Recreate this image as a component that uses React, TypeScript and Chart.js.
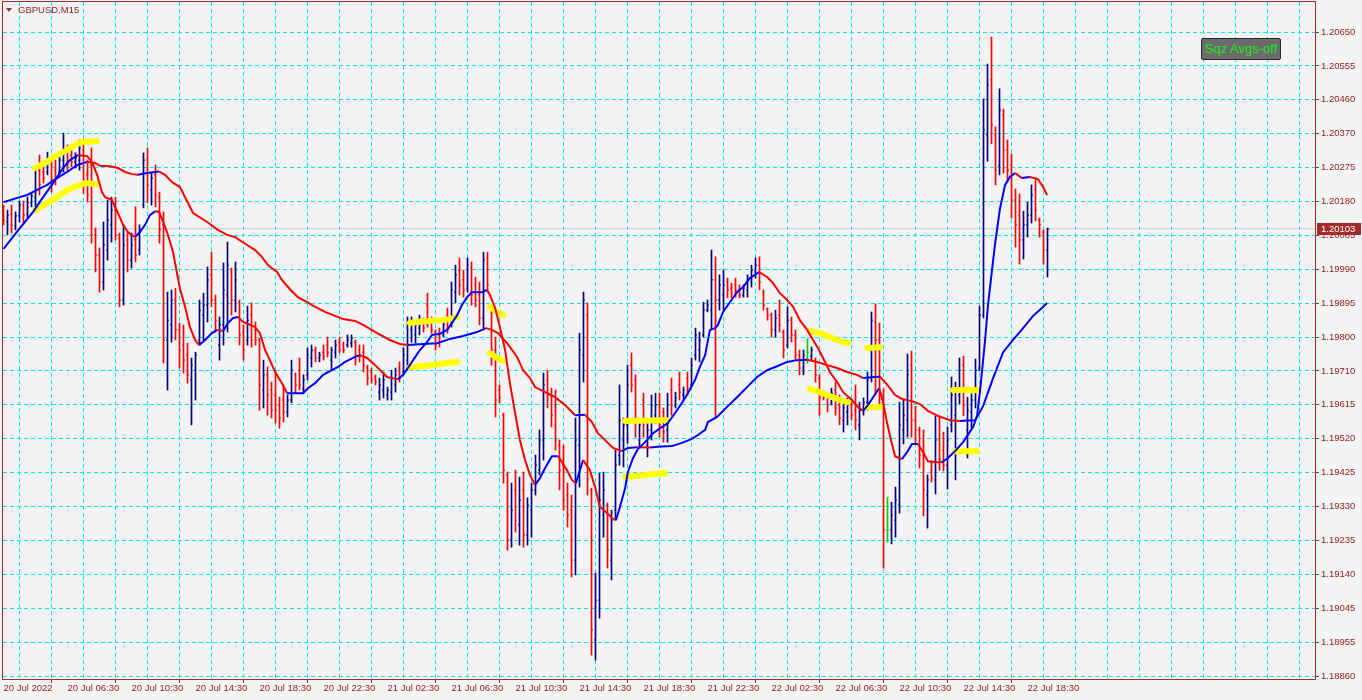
import React, { useEffect, useRef } from 'react';
import { Chart, registerables } from 'chart.js';

Chart.register(...registerables);

// ---------- axis labels ----------
const timeLabels = [
  '20 Jul 2022', '20 Jul 06:30', '20 Jul 10:30', '20 Jul 14:30', '20 Jul 18:30', '20 Jul 22:30',
  '21 Jul 02:30', '21 Jul 06:30', '21 Jul 10:30', '21 Jul 14:30', '21 Jul 18:30', '21 Jul 22:30',
  '22 Jul 02:30', '22 Jul 06:30', '22 Jul 10:30', '22 Jul 14:30', '22 Jul 18:30',
];
const priceLabels = [
  '1.18860', '1.18955', '1.19045', '1.19140', '1.19235', '1.19330', '1.19425', '1.19520', '1.19615', '1.19710',
  '1.19800', '1.19895', '1.19990', '1.20085', '1.20180', '1.20275', '1.20370', '1.20460', '1.20555', '1.20650',
];

// ---------- GBPUSD M15 OHLC ----------
const open = [
  1.20161,1.20122,1.20144,1.20111,1.20139,1.20169,1.20144,1.20175,1.20189,1.20266,
  1.20261,1.20261,1.20294,1.20266,1.20261,1.20294,1.20328,1.20308,1.20289,1.20294,
  1.20322,1.20253,1.20280,1.20086,1.20030,1.19955,1.20044,1.20114,1.20155,1.20077,
  1.19905,1.20072,1.20016,1.20072,1.20044,1.20169,1.20294,1.20211,1.20253,1.20191,
  1.20114,1.19794,1.19836,1.19905,1.19822,1.19780,1.19752,1.19683,1.19710,1.19794,
  1.19863,1.19891,1.19975,1.19905,1.19780,1.19836,1.19919,1.19983,1.19905,1.19899,
  1.19816,1.19794,1.19863,1.19822,1.19794,1.19655,1.19697,1.19655,1.19641,1.19613,
  1.19627,1.19594,1.19627,1.19697,1.19710,1.19660,1.19697,1.19744,1.19766,1.19744,
  1.19760,1.19780,1.19738,1.19760,1.19788,1.19780,1.19780,1.19785,1.19788,1.19766,
  1.19760,1.19716,1.19705,1.19691,1.19649,1.19655,1.19641,1.19649,1.19669,1.19716,
  1.19705,1.19738,1.19822,1.19808,1.19827,1.19849,1.19891,1.19849,1.19816,1.19808,
  1.19808,1.19863,1.19849,1.19927,1.19988,1.19961,1.19938,1.19994,1.19947,1.19919,
  1.19855,1.20022,1.19877,1.19766,1.19655,1.19585,1.19419,1.19238,1.19377,1.19280,
  1.19377,1.19252,1.19321,1.19377,1.19432,1.19516,1.19683,1.19641,1.19613,1.19502,
  1.19446,1.19363,1.19321,1.19182,1.19502,1.19752,1.19863,1.19377,1.18960,1.19071,
  1.19307,1.19335,1.19182,1.19321,1.19474,1.19516,1.19558,1.19724,1.19683,1.19516,
  1.19627,1.19502,1.19544,1.19585,1.19613,1.19594,1.19544,1.19655,1.19613,1.19669,
  1.19641,1.19688,1.19669,1.19752,1.19766,1.19808,1.19877,1.19877,1.19961,1.19905,
  1.19919,1.19955,1.19938,1.19947,1.19933,1.19919,1.19933,1.19955,1.19983,1.20002,
  1.19927,1.19880,1.19863,1.19822,1.19863,1.19816,1.19780,1.19849,1.19808,1.19752,
  1.19716,1.19760,1.19749,1.19738,1.19688,1.19644,1.19638,1.19621,1.19655,1.19613,
  1.19571,1.19594,1.19613,1.19599,1.19558,1.19599,1.19621,1.19688,1.19844,1.19794,
  1.19641,1.19266,1.19266,1.19293,1.19335,1.19544,1.19571,1.19724,1.19571,1.19544,
  1.19474,1.19363,1.19432,1.19405,1.19516,1.19488,1.19446,1.19558,1.19585,1.19641,
  1.19724,1.19544,1.19594,1.19627,1.19716,1.19863,1.20364,1.20517,1.20364,1.20280,
  1.20419,1.20322,1.20280,1.20183,1.20141,1.20072,1.20114,1.20141,1.20211,1.20127,
  1.20094,1.20044,
];
const high = [
  1.20169,1.20155,1.20169,1.20150,1.20180,1.20180,1.20191,1.20202,1.20275,1.20308,
  1.20286,1.20316,1.20303,1.20294,1.20314,1.20369,1.20336,1.20322,1.20314,1.20350,
  1.20341,1.20294,1.20328,1.20105,1.20050,1.20122,1.20183,1.20191,1.20191,1.20091,
  1.20114,1.20094,1.20091,1.20164,1.20114,1.20314,1.20328,1.20258,1.20280,1.20205,
  1.20150,1.19927,1.19933,1.19938,1.19841,1.19836,1.19785,1.19744,1.19760,1.19905,
  1.19924,1.19997,1.20038,1.19919,1.19858,1.20008,1.20066,1.19994,1.20011,1.19905,
  1.19836,1.19888,1.19897,1.19844,1.19799,1.19738,1.19719,1.19677,1.19710,1.19635,
  1.19669,1.19641,1.19738,1.19702,1.19744,1.19697,1.19772,1.19780,1.19774,1.19760,
  1.19780,1.19802,1.19774,1.19794,1.19802,1.19788,1.19808,1.19808,1.19794,1.19780,
  1.19780,1.19724,1.19716,1.19697,1.19688,1.19705,1.19663,1.19710,1.19716,1.19733,
  1.19772,1.19858,1.19858,1.19849,1.19863,1.19855,1.19924,1.19858,1.19822,1.19827,
  1.19855,1.19883,1.19955,1.20002,1.20022,1.19988,1.20022,1.20011,1.19969,1.19955,
  1.20038,1.20038,1.19891,1.19802,1.19669,1.19591,1.19427,1.19396,1.19432,1.19413,
  1.19427,1.19355,1.19396,1.19474,1.19544,1.19702,1.19710,1.19660,1.19655,1.19516,
  1.19502,1.19396,1.19363,1.19577,1.19813,1.19927,1.19897,1.19382,1.19146,1.19424,
  1.19427,1.19341,1.19321,1.19488,1.19669,1.19577,1.19724,1.19758,1.19697,1.19571,
  1.19646,1.19563,1.19641,1.19646,1.19646,1.19605,1.19646,1.19688,1.19649,1.19705,
  1.19663,1.19705,1.19744,1.19827,1.19816,1.19899,1.19905,1.20044,1.20025,1.19975,
  1.19988,1.19966,1.19952,1.19966,1.19947,1.19947,1.19975,1.20002,1.20022,1.20025,
  1.19933,1.19883,1.19869,1.19877,1.19905,1.19822,1.19886,1.19858,1.19822,1.19766,
  1.19766,1.19797,1.19774,1.19744,1.19697,1.19649,1.19646,1.19660,1.19677,1.19641,
  1.19627,1.19633,1.19621,1.19669,1.19621,1.19633,1.19705,1.19872,1.19894,1.19841,
  1.19658,1.19357,1.19343,1.19385,1.19621,1.19630,1.19755,1.19763,1.19610,1.19552,
  1.19544,1.19419,1.19457,1.19583,1.19583,1.19538,1.19552,1.19691,1.19677,1.19744,
  1.19749,1.19635,1.19644,1.19741,1.19888,1.20464,1.20561,1.20636,1.20386,1.20492,
  1.20436,1.20350,1.20311,1.20214,1.20200,1.20152,1.20177,1.20225,1.20244,1.20133,
  1.20100,1.20105,
];
const low = [
  1.20114,1.20086,1.20091,1.20100,1.20122,1.20114,1.20133,1.20164,1.20150,1.20197,
  1.20230,1.20253,1.20205,1.20225,1.20253,1.20261,1.20261,1.20275,1.20272,1.20266,
  1.20202,1.20177,1.20063,1.19983,1.19927,1.19933,1.20016,1.20066,1.20072,1.19886,
  1.19891,1.19983,1.19994,1.20011,1.20030,1.20161,1.20175,1.20169,1.20164,1.20063,
  1.19730,1.19655,1.19788,1.19794,1.19716,1.19702,1.19674,1.19558,1.19627,1.19780,
  1.19794,1.19844,1.19886,1.19816,1.19738,1.19780,1.19816,1.19863,1.19872,1.19780,
  1.19738,1.19780,1.19774,1.19780,1.19599,1.19605,1.19585,1.19577,1.19563,1.19549,
  1.19566,1.19580,1.19619,1.19646,1.19655,1.19646,1.19683,1.19719,1.19733,1.19733,
  1.19738,1.19747,1.19710,1.19744,1.19758,1.19758,1.19774,1.19774,1.19724,1.19733,
  1.19705,1.19669,1.19674,1.19669,1.19627,1.19633,1.19627,1.19627,1.19649,1.19677,
  1.19697,1.19710,1.19788,1.19785,1.19808,1.19816,1.19830,1.19813,1.19766,1.19774,
  1.19802,1.19813,1.19830,1.19897,1.19919,1.19913,1.19927,1.19891,1.19886,1.19836,
  1.19827,1.19927,1.19724,1.19580,1.19619,1.19396,1.19210,1.19218,1.19260,1.19224,
  1.19218,1.19224,1.19246,1.19363,1.19419,1.19460,1.19605,1.19552,1.19488,1.19377,
  1.19321,1.19274,1.19135,1.19141,1.19385,1.19677,1.19363,1.18918,1.18904,1.19021,
  1.19246,1.19160,1.19127,1.19293,1.19446,1.19441,1.19507,1.19649,1.19524,1.19494,
  1.19524,1.19469,1.19516,1.19563,1.19524,1.19510,1.19510,1.19585,1.19605,1.19627,
  1.19627,1.19641,1.19663,1.19738,1.19733,1.19802,1.19872,1.19822,1.19580,1.19877,
  1.19877,1.19911,1.19911,1.19913,1.19911,1.19913,1.19913,1.19941,1.19966,1.19933,
  1.19877,1.19849,1.19802,1.19802,1.19816,1.19744,1.19772,1.19788,1.19738,1.19697,
  1.19697,1.19730,1.19738,1.19677,1.19585,1.19627,1.19594,1.19613,1.19585,1.19558,
  1.19538,1.19558,1.19571,1.19544,1.19516,1.19585,1.19599,1.19677,1.19641,1.19610,
  1.19160,1.19232,1.19227,1.19246,1.19313,1.19505,1.19524,1.19524,1.19505,1.19438,
  1.19305,1.19271,1.19399,1.19366,1.19432,1.19430,1.19380,1.19538,1.19405,1.19616,
  1.19583,1.19466,1.19549,1.19605,1.19708,1.19855,1.20291,1.20339,1.20225,1.20253,
  1.20258,1.20233,1.20133,1.20052,1.20005,1.20019,1.20080,1.20119,1.20125,1.20080,
  1.20005,1.19969,
];
const close = [
  1.20127,1.20141,1.20114,1.20139,1.20169,1.20141,1.20177,1.20194,1.20266,1.20225,
  1.20244,1.20300,1.20239,1.20244,1.20294,1.20322,1.20289,1.20289,1.20300,1.20328,
  1.20239,1.20197,1.20086,1.20030,1.19955,1.20058,1.20127,1.20155,1.20086,1.19905,
  1.20058,1.20016,1.20058,1.20030,1.20100,1.20294,1.20225,1.20244,1.20197,1.20100,
  1.19794,1.19849,1.19905,1.19822,1.19766,1.19738,1.19697,1.19724,1.19752,1.19877,
  1.19891,1.19961,1.19905,1.19849,1.19836,1.19933,1.20002,1.19905,1.19961,1.19808,
  1.19766,1.19849,1.19794,1.19794,1.19669,1.19697,1.19641,1.19599,1.19599,1.19577,
  1.19594,1.19627,1.19710,1.19669,1.19669,1.19683,1.19752,1.19766,1.19744,1.19752,
  1.19747,1.19760,1.19766,1.19780,1.19766,1.19766,1.19794,1.19799,1.19752,1.19747,
  1.19724,1.19688,1.19683,1.19677,1.19669,1.19683,1.19655,1.19688,1.19697,1.19688,
  1.19752,1.19836,1.19844,1.19836,1.19849,1.19827,1.19844,1.19822,1.19780,1.19788,
  1.19836,1.19827,1.19933,1.19975,1.19947,1.19933,1.20002,1.19919,1.19905,1.19855,
  1.20016,1.19947,1.19766,1.19627,1.19633,1.19432,1.19238,1.19321,1.19293,1.19349,
  1.19252,1.19335,1.19377,1.19446,1.19516,1.19669,1.19641,1.19585,1.19516,1.19432,
  1.19349,1.19307,1.19182,1.19516,1.19766,1.19905,1.19405,1.18988,1.19071,1.19349,
  1.19377,1.19210,1.19293,1.19446,1.19571,1.19558,1.19669,1.19669,1.19571,1.19558,
  1.19558,1.19544,1.19613,1.19613,1.19558,1.19538,1.19613,1.19613,1.19633,1.19649,
  1.19655,1.19660,1.19724,1.19808,1.19794,1.19877,1.19891,1.19961,1.19905,1.19947,
  1.19947,1.19933,1.19924,1.19933,1.19919,1.19938,1.19961,1.19988,1.20002,1.19955,
  1.19891,1.19863,1.19822,1.19855,1.19836,1.19766,1.19849,1.19808,1.19752,1.19716,
  1.19752,1.19760,1.19766,1.19697,1.19633,1.19633,1.19613,1.19646,1.19605,1.19577,
  1.19605,1.19613,1.19585,1.19571,1.19599,1.19621,1.19683,1.19849,1.19794,1.19641,
  1.19266,1.19266,1.19307,1.19349,1.19558,1.19585,1.19697,1.19571,1.19544,1.19474,
  1.19377,1.19405,1.19410,1.19516,1.19460,1.19446,1.19516,1.19641,1.19649,1.19710,
  1.19613,1.19599,1.19627,1.19710,1.19863,1.20378,1.20503,1.20392,1.20266,1.20433,
  1.20322,1.20266,1.20183,1.20114,1.20072,1.20114,1.20141,1.20197,1.20155,1.20114,
  1.20044,1.20103,
];

// ---------- averages (bar position, price) ----------
const fastAvg = [
  [0,1.20047],[4.1,1.20105],[7.4,1.20150],[9.9,1.20191],[12.4,1.20230],[14.9,1.20272],[16.6,1.20294],[18.6,1.20308],
  [20.9,1.20305],[22.1,1.20289],[23.4,1.20253],[24.6,1.20205],[25.4,1.20191],[27.1,1.20183],[28.6,1.20147],[29.9,1.20114],
  [31.1,1.20094],[32.9,1.20080],[34.1,1.20094],[35.4,1.20114],[36.6,1.20141],[37.9,1.20152],[38.9,1.20150],[39.9,1.20122],
  [41.1,1.20086],[42.4,1.20038],[44.1,1.19938],[45.4,1.19886],[46.6,1.19830],[47.9,1.19794],[48.9,1.19780],[50.4,1.19794],
  [52.1,1.19813],[53.4,1.19822],[54.9,1.19819],[56.1,1.19841],[57.4,1.19855],[58.6,1.19858],[59.9,1.19844],[61.6,1.19836],
  [62.9,1.19830],[64.1,1.19813],[65.4,1.19766],[66.6,1.19738],[67.9,1.19705],[69.6,1.19674],[70.9,1.19646],[72.4,1.19646],
  [74.9,1.19646],[76.1,1.19660],[77.9,1.19674],[79.9,1.19697],[82.1,1.19710],[83.6,1.19719],[85.4,1.19733],[87.9,1.19747],
  [89.1,1.19752],[90.9,1.19744],[92.9,1.19724],[94.6,1.19705],[95.9,1.19691],[97.1,1.19688],[98.6,1.19685],[99.9,1.19697],
  [101.1,1.19716],[102.4,1.19738],[104.1,1.19766],[105.9,1.19788],[107.1,1.19808],[109.1,1.19811],[110.9,1.19822],[112.1,1.19841],
  [113.4,1.19863],[114.6,1.19891],[115.9,1.19913],[117.1,1.19927],[119.6,1.19927],[120.9,1.19933],[121.6,1.19919],[122.9,1.19883],
  [124.1,1.19830],[125.4,1.19766],[126.6,1.19674],[127.9,1.19591],[129.1,1.19516],[130.4,1.19460],[131.6,1.19419],[132.9,1.19391],
  [134.1,1.19410],[135.4,1.19438],[137.1,1.19471],[138.6,1.19471],[139.6,1.19455],[140.9,1.19432],[142.1,1.19405],[143.1,1.19396],
  [144.1,1.19432],[144.9,1.19460],[146.6,1.19432],[147.9,1.19385],[149.1,1.19330],[150.9,1.19313],[152.1,1.19299],[153.1,1.19293],
  [154.1,1.19330],[155.4,1.19382],[156.1,1.19427],[157.4,1.19466],[158.6,1.19491],[160.4,1.19510],[162.4,1.19535],[164.6,1.19552],
  [166.1,1.19563],[167.9,1.19591],[169.6,1.19619],[171.1,1.19646],[172.9,1.19683],[174.1,1.19719],[175.4,1.19752],[176.6,1.19822],
  [177.9,1.19827],[178.6,1.19836],[179.9,1.19872],[181.6,1.19899],[183.4,1.19927],[184.9,1.19941],[186.6,1.19966],[188.9,1.19983],
  [190.9,1.19969],[192.4,1.19952],[194.1,1.19924],[195.9,1.19905],[197.4,1.19886],[199.1,1.19849],[200.9,1.19822],[202.4,1.19794],
  [203.6,1.19772],[204.9,1.19744],[206.6,1.19705],[208.4,1.19677],[209.9,1.19649],[212.1,1.19627],[213.6,1.19608],[214.9,1.19597],
  [216.1,1.19613],[217.4,1.19635],[218.9,1.19660],[219.9,1.19621],[220.9,1.19563],[222.1,1.19505],[222.9,1.19471],[224.6,1.19463],
  [225.9,1.19482],[227.1,1.19505],[228.6,1.19505],[229.9,1.19482],[231.1,1.19457],[232.9,1.19455],[234.6,1.19454],[236.1,1.19466],
  [237.9,1.19485],[239.9,1.19510],[242.4,1.19552],[243.4,1.19583],[244.1,1.19649],[245.4,1.19794],[246.1,1.19888],[247.1,1.19986],
  [247.9,1.20061],[249.1,1.20158],[250.4,1.20225],[251.6,1.20247],[252.9,1.20258],[254.6,1.20244],[256.6,1.20247],[258.6,1.20241],
  [259.9,1.20219],[260.9,1.20197],
];
const slowAvg = [
  [0,1.20177],[3.4,1.20189],[5.9,1.20197],[8.4,1.20211],[10.9,1.20225],[13.4,1.20244],[15.9,1.20261],[18.4,1.20280],
  [20.9,1.20289],[22.9,1.20286],[24.1,1.20278],[26.6,1.20277],[28.6,1.20272],[30.4,1.20261],[32.1,1.20255],[33.6,1.20253],
  [35.9,1.20258],[37.9,1.20261],[38.9,1.20262],[40.4,1.20253],[42.1,1.20233],[44.1,1.20219],[47.4,1.20147],[50.9,1.20122],
  [53.6,1.20100],[55.9,1.20086],[57.9,1.20080],[60.9,1.20058],[62.9,1.20044],[64.6,1.20025],[66.1,1.20002],[68.4,1.19983],
  [69.6,1.19961],[71.6,1.19935],[73.6,1.19913],[75.9,1.19899],[77.9,1.19886],[80.4,1.19872],[82.9,1.19861],[84.9,1.19852],
  [87.9,1.19847],[89.9,1.19836],[93.4,1.19813],[96.6,1.19794],[99.1,1.19783],[101.1,1.19780],[104.9,1.19783],[108.4,1.19785],
  [111.6,1.19797],[114.9,1.19805],[118.4,1.19816],[120.6,1.19827],[122.1,1.19822],[123.6,1.19813],[125.9,1.19785],[128.4,1.19747],
  [129.9,1.19710],[131.6,1.19688],[132.9,1.19663],[135.4,1.19649],[137.9,1.19635],[140.4,1.19613],[142.9,1.19585],[145.4,1.19586],
  [147.1,1.19566],[148.6,1.19535],[150.9,1.19510],[152.4,1.19494],[154.6,1.19485],[156.1,1.19494],[158.4,1.19496],[161.6,1.19495],
  [163.6,1.19497],[167.1,1.19499],[169.6,1.19508],[172.1,1.19519],[173.6,1.19530],[175.4,1.19544],[176.1,1.19566],[178.4,1.19580],
  [180.9,1.19608],[183.4,1.19635],[185.9,1.19663],[188.4,1.19691],[190.9,1.19710],[193.4,1.19721],[195.9,1.19733],[198.4,1.19738],
  [200.9,1.19739],[203.4,1.19733],[205.9,1.19724],[208.4,1.19716],[210.9,1.19705],[213.4,1.19697],[214.9,1.19688],[215.9,1.19690],
  [219.1,1.19692],[220.4,1.19677],[222.9,1.19641],[224.6,1.19630],[227.1,1.19624],[229.1,1.19616],[231.1,1.19597],[233.6,1.19583],
  [236.6,1.19571],[239.1,1.19569],[240.9,1.19570],[242.9,1.19571],[244.9,1.19610],[247.4,1.19688],[249.9,1.19760],[252.4,1.19794],
  [254.9,1.19827],[257.4,1.19861],[259.6,1.19883],[260.9,1.19897],
];

// ---------- squeeze bands (separate runs) ----------
const squeezeUpper = [
  [[7.9,1.20272],[10.4,1.20286],[12.9,1.20305],[15.4,1.20319],[17.9,1.20336],[19.6,1.20344],[23.4,1.20347]],
  [[101.6,1.19841],[105.4,1.19847],[109.1,1.19849],[111.6,1.19852],[113.4,1.19858]],
  [[121.6,1.19886],[123.4,1.19872],[124.9,1.19863]],
  [[155.4,1.19569],[165.9,1.19571]],
  [[201.6,1.19819],[204.1,1.19813],[206.6,1.19802],[209.1,1.19791],[211.1,1.19785]],
  [[215.9,1.19772],[219.1,1.19774]],
  [[237.4,1.19655],[243.4,1.19655]],
];
const squeezeLower = [
  [[7.9,1.20155],[10.9,1.20175],[13.4,1.20191],[15.9,1.20211],[18.4,1.20222],[20.4,1.20230],[23.4,1.20227]],
  [[101.6,1.19719],[106.6,1.19724],[110.9,1.19730],[113.4,1.19733]],
  [[121.6,1.19758],[123.4,1.19744],[124.9,1.19736]],
  [[155.4,1.19413],[165.4,1.19424]],
  [[201.6,1.19658],[204.1,1.19649],[206.6,1.19638],[209.1,1.19627],[211.1,1.19621]],
  [[215.9,1.19608],[219.1,1.19608]],
  [[237.9,1.19485],[243.4,1.19485]],
];

// ---------- styling ----------
const FONT = '"Liberation Sans", Arial, sans-serif';
const FRAME = '#a52a2a';
const TEXT = '#8b1c1c';
const GRID = '#14e4e4';
const BULL = '#000080';
const BEAR = '#ff0000';
const DOJI = '#00d000';
const X_MIN = -0.125;
const X_MAX = 328.125;
const Y_MIN = 1.188517;
const Y_MAX = 1.207334;

const toPts = (arr: number[][]) => arr.map(([x, y]) => ({ x, y }));
const joinRuns = (runs: number[][][]) => {
  const out: any[] = [];
  runs.forEach((run, k) => {
    if (k > 0) out.push({ x: run[0][0] - 0.5, y: null });
    run.forEach(([x, y]) => out.push({ x, y }));
  });
  return out;
};

export default function App() {
  const ref = useRef<HTMLCanvasElement | null>(null);

  useEffect(() => {
    const canvas = ref.current;
    if (!canvas) return;
    const lastClose = close[close.length - 1];
    const barCols = open.map((o, i) => (close[i] > o ? BULL : close[i] < o ? BEAR : DOJI));
    const yLow = parseFloat(priceLabels[0]);
    const yHigh = parseFloat(priceLabels[priceLabels.length - 1]);
    const yStep = (yHigh - yLow) / (priceLabels.length - 1);

    const slopeColor = (ctx: any) => (ctx.p1.parsed.y >= ctx.p0.parsed.y ? '#0000ff' : '#ff0000');

    const framePlugin = {
      id: 'frame',
      afterDraw(chart: any) {
        const { ctx, chartArea, scales } = chart;
        ctx.save();
        ctx.strokeStyle = FRAME;
        ctx.lineWidth = 1;
        ctx.strokeRect(chartArea.left - 0.5, chartArea.top - 0.5, chartArea.right - chartArea.left, chartArea.bottom - chartArea.top + 1);
        const py = Math.round(scales.y.getPixelForValue(lastClose));
        ctx.fillStyle = FRAME;
        ctx.fillRect(chartArea.right + 1, py - 6, chart.width - chartArea.right - 2, 12);
        ctx.fillStyle = '#ffffff';
        ctx.font = `9.5px ${FONT}`;
        ctx.textBaseline = 'middle';
        ctx.fillText(lastClose.toFixed(5), chartArea.right + 5, py + 0.5);
        ctx.restore();
      },
    };

    const chart = new Chart(canvas, {
      type: 'bar',
      data: {
        datasets: [
          {
            type: 'line', label: 'fast', data: toPts(fastAvg), borderColor: '#0000ff', borderWidth: 2,
            pointRadius: 0, tension: 0, segment: { borderColor: slopeColor }, order: 1,
          },
          {
            type: 'line', label: 'slow', data: toPts(slowAvg), borderColor: '#0000ff', borderWidth: 2,
            pointRadius: 0, tension: 0, segment: { borderColor: slopeColor }, order: 2,
          },
          {
            type: 'line', label: 'sqzUp', data: joinRuns(squeezeUpper), borderColor: '#ffff00', borderWidth: 6,
            borderCapStyle: 'round', borderJoinStyle: 'round', pointRadius: 0, spanGaps: false, order: 3,
          },
          {
            type: 'line', label: 'sqzDn', data: joinRuns(squeezeLower), borderColor: '#ffff00', borderWidth: 6,
            borderCapStyle: 'round', borderJoinStyle: 'round', pointRadius: 0, spanGaps: false, order: 3,
          },
          {
            type: 'bar', label: 'range', data: high.map((h, i) => ({ x: i, y: [low[i], h] })) as any,
            backgroundColor: barCols, borderWidth: 0, barThickness: 1, grouped: false, order: 5,
          },
          {
            type: 'scatter', label: 'open', data: open.map((o, i) => ({ x: i - 0.125, y: o })),
            pointStyle: 'line', pointRadius: 1, pointBorderWidth: 1, pointBorderColor: barCols, order: 5,
          },
          {
            type: 'scatter', label: 'close', data: close.map((c, i) => ({ x: i + 0.125, y: c })),
            pointStyle: 'line', pointRadius: 1, pointBorderWidth: 1, pointBorderColor: barCols, order: 5,
          },
          {
            type: 'line', label: 'bid', data: [{ x: X_MIN, y: lastClose }, { x: X_MAX, y: lastClose }],
            borderColor: '#c8c8c8', borderWidth: 1, pointRadius: 0, order: 6,
          },
        ] as any,
      },
      options: {
        animation: false,
        responsive: false,
        devicePixelRatio: 1,
        events: [],
        layout: { autoPadding: false, padding: { left: 3, top: 2, right: 0, bottom: 0 } },
        plugins: { legend: { display: false }, tooltip: { enabled: false } },
        scales: {
          x: {
            type: 'linear', min: X_MIN, max: X_MAX, offset: false,
            afterBuildTicks: (s: any) => {
              const t = [];
              for (let v = 0; v <= 328; v += 8) t.push({ value: v });
              s.ticks = t;
            },
            afterFit: (s: any) => { s.height = 21; s.paddingLeft = 0; s.paddingRight = 0; },
            grid: {
              color: GRID, lineWidth: 1, drawTicks: true, tickLength: 4,
              tickColor: (c: any) => (c.tick && c.tick.value % 16 === 0 && c.tick.value / 16 < timeLabels.length ? FRAME : 'rgba(0,0,0,0)'),
              tickBorderDash: [],
            },
            border: { display: false, dash: [4, 3] },
            ticks: {
              autoSkip: false, maxRotation: 0, minRotation: 0, align: 'start', padding: 0,
              color: TEXT, font: { family: FONT, size: 9.5 },
              callback: (v: any) => {
                const k = Number(v) / 16;
                return Number.isInteger(k) && k < timeLabels.length ? timeLabels[k] : '';
              },
            },
          },
          y: {
            type: 'linear', position: 'right', min: Y_MIN, max: Y_MAX,
            afterBuildTicks: (s: any) => {
              s.ticks = priceLabels.map((_, k) => ({ value: yLow + k * yStep }));
            },
            afterFit: (s: any) => { s.width = 46; s.paddingTop = 0; s.paddingBottom = 0; },
            grid: { color: GRID, lineWidth: 1, drawTicks: true, tickLength: 3, tickColor: FRAME, tickBorderDash: [] },
            border: { display: false, dash: [4, 3] },
            ticks: {
              autoSkip: false, padding: 2, color: TEXT, font: { family: FONT, size: 9.5 },
              callback: (_v: any, idx: number) => priceLabels[idx],
            },
          },
        },
      } as any,
      plugins: [framePlugin],
    });
    return () => chart.destroy();
  }, []);

  return (
    <div style={{ position: 'fixed', left: 0, top: 0, width: 1362, height: 700, background: '#f4f4f4', overflow: 'hidden' }}>
      <canvas ref={ref} width={1362} height={700} style={{ display: 'block', position: 'absolute', left: 0, top: 0 }} />
      <div style={{ position: 'absolute', left: 6, top: 8, width: 0, height: 0, borderLeft: '3.5px solid transparent', borderRight: '3.5px solid transparent', borderTop: `4px solid ${FRAME}` }} />
      <div style={{ position: 'absolute', left: 18, top: 4, fontFamily: FONT, fontSize: 9.5, color: TEXT, lineHeight: '12px', whiteSpace: 'nowrap' }}>GBPUSD,M15</div>
      <div style={{ position: 'absolute', left: 1201, top: 38, width: 78, height: 20, background: '#6b6b6b', border: '1px solid #2a2a2a', borderRadius: 2, color: '#22e622', fontFamily: FONT, fontSize: 13, lineHeight: '20px', textAlign: 'center', whiteSpace: 'nowrap' }}>Sqz Avgs-off</div>
    </div>
  );
}
